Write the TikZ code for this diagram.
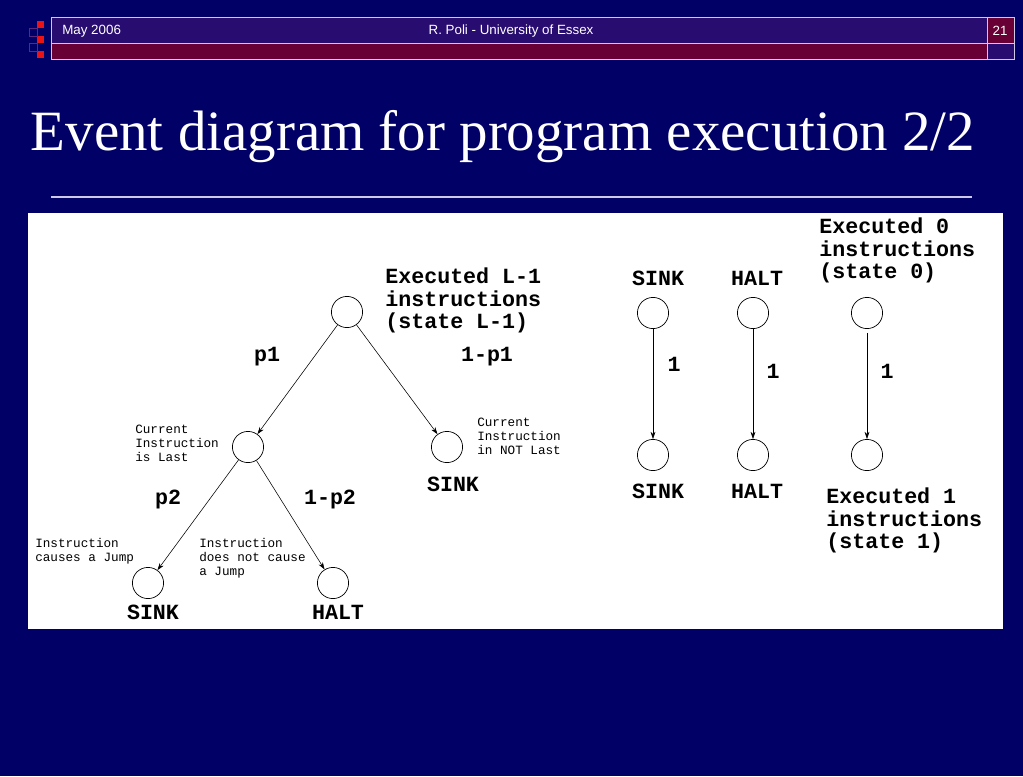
\documentclass[tikz,border=0pt]{standalone}
\usepackage{fontspec}
\setmainfont{Liberation Serif}
\setsansfont{Liberation Sans}
\setmonofont{Liberation Mono}
\usetikzlibrary{arrows.meta, positioning}
\definecolor{slidebg}{RGB}{0,0,102}
\definecolor{barblue}{RGB}{40,12,112}
\definecolor{barred}{RGB}{104,0,54}
\definecolor{barline}{RGB}{205,200,230}
\definecolor{boxred}{RGB}{235,20,20}
\definecolor{boxviolet}{RGB}{90,40,130}
\tikzset{
  % Slide styles
  headtext/.style={font=\sffamily\fontsize{9.5}{11}\selectfont, text=white, inner sep=0pt},
  titletext/.style={font=\rmfamily\fontsize{40.5}{46}\selectfont, text=white, inner sep=0pt},
  % Diagram styles
  state/.style={circle, draw=black, line width=0.5pt, minimum size=0.78cm, inner sep=0pt, fill=white},
  bigtext/.style={font=\ttfamily\bfseries\fontsize{15.4}{16}\selectfont, align=left, inner sep=0pt},
  smalltext/.style={font=\ttfamily\fontsize{9}{10}\selectfont, align=left, inner sep=0pt},
  arrow/.style={-{Stealth[length=1.8mm, width=1.2mm]}, line width=0.4pt},
}

\begin{document}
\begin{tikzpicture}[x=0.025cm, y=-0.025cm]
    % Background
    \fill[slidebg] (0,0) rectangle (1023,776);
    \useasboundingbox (0,0) rectangle (1023,776);

    % Header bar
    \fill[barblue] (51,17) rectangle (987,43);
    \fill[barred] (51,43) rectangle (987,59);
    \fill[barred] (987,17) rectangle (1014,43);
    \fill[barblue] (987,43) rectangle (1014,59);
    \draw[barline, line width=0.7pt] (51,17) rectangle (1014,59);
    \draw[barline, line width=0.7pt] (51,43) -- (1014,43);
    \draw[barline, line width=0.7pt] (987,17) -- (987,59);
    \foreach \y in {21,36,51}
      \fill[boxred] (37,\y) rectangle (44,\y+7);
    \foreach \y in {28,43}
      \draw[boxviolet, fill=slidebg] (29,\y) rectangle (37,\y+8);
    \node[headtext, anchor=west] (date) at (62,31) {May 2006};
    \node[headtext] (author) at (511,31) {R. Poli - University of Essex};
    \node[headtext] (page) at (1000,31) {21};

    % Title
    \node[titletext, anchor=base] (title) at (503,150) {Event diagram for program execution 2/2};
    \draw[barline, line width=0.8pt] (51,197) -- (972,197);

    % White panel
    \fill[white] (28,213) rectangle (1003,629);

    % Tree of states
    \node[state] (root) at (347,312) {};
    \node[state] (last) at (248,447) {};
    \node[state] (notlast) at (447,447) {};
    \node[state] (jump) at (148,583) {};
    \node[state] (nojump) at (333,583) {};

    % Tree texts
    \node[bigtext, anchor=north west] (rootlbl) at (385,268) {Executed L-1\\instructions\\(state L-1)};
    \node[smalltext, anchor=north west] (lastlbl) at (135,425) {Current\\Instruction\\is Last};
    \node[smalltext, anchor=north west] (notlastlbl) at (477,418) {Current\\Instruction\\in NOT Last};
    \node[bigtext] (notlastname) at (453,484) {SINK};
    \node[smalltext, anchor=north west] (jumplbl) at (35,538) {Instruction\\causes a Jump};
    \node[smalltext, anchor=north west] (nojumplbl) at (199,538) {Instruction\\does not cause\\a Jump};
    \node[bigtext] (jumpname) at (153,612) {SINK};
    \node[bigtext] (nojumpname) at (338,612) {HALT};

    % Tree probabilities
    \node[bigtext] (p1) at (267,357) {p1};
    \node[bigtext] (q1) at (487,357) {1-p1};
    \node[bigtext] (p2) at (168,499) {p2};
    \node[bigtext] (q2) at (330,499) {1-p2};

    % Tree arrows
    \draw[arrow] (root) -- (last);
    \draw[arrow] (root) -- (notlast);
    \draw[arrow] (last) -- (jump);
    \draw[arrow] (last) -- (nojump);

    % Absorbing states
    \node[state] (sinktop) at (653,313) {};
    \node[state] (sinkbot) at (653,455) {};
    \node[state] (halttop) at (753,313) {};
    \node[state] (haltbot) at (753,455) {};
    \node[state] (zero) at (867,313) {};
    \node[state] (one) at (867,455) {};

    \node[bigtext] (sinktoplbl) at (658,278) {SINK};
    \node[bigtext] (halttoplbl) at (757,278) {HALT};
    \node[bigtext] (sinkbotlbl) at (658,491) {SINK};
    \node[bigtext] (haltbotlbl) at (757,491) {HALT};
    \node[bigtext, anchor=north west] (zerolbl) at (819,218) {Executed 0\\instructions\\(state 0)};
    \node[bigtext, anchor=north west] (onelbl) at (826,488) {Executed 1\\instructions\\(state 1)};

    \node[bigtext] (sinkprob) at (674,364) {1};
    \node[bigtext] (haltprob) at (773,371) {1};
    \node[bigtext] (zeroprob) at (887,371) {1};

    \draw[arrow] (sinktop) -- (sinkbot);
    \draw[arrow] (halttop) -- (haltbot);
    \draw[arrow, shorten <=0.1cm] (zero) -- (one);
\end{tikzpicture}
\end{document}
